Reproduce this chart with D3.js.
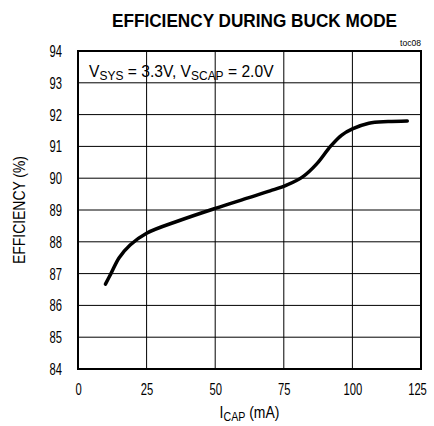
<!DOCTYPE html>
<html>
<head>
<meta charset="utf-8">
<script src="https://cdn.jsdelivr.net/npm/d3@7"></script>
<style>
  body { margin: 0; background: #fff; }
  text { font-family: "Liberation Sans", Arial, sans-serif; fill: #000; }
</style>
</head>
<body>
<div id="chart-area"></div>
<script>
// data
const currentMA = [10, 12, 15, 19, 25, 37, 50, 62, 70, 76, 82, 87, 92, 96, 100, 106, 113, 120]
const efficiency = [86.67, 87.0, 87.5, 87.9, 88.27, 88.67, 89.05, 89.38, 89.6, 89.78, 90.05, 90.45, 91.0, 91.35, 91.55, 91.73, 91.78, 91.8]
const xTicks = [0, 25, 50, 75, 100, 125]
const yTicks = [84, 85, 86, 87, 88, 89, 90, 91, 92, 93, 94]

const MARGIN = { LEFT: 78, TOP: 51 }
const WIDTH = 343
const HEIGHT = 318
const SQUEEZE = 0.66 // tick digits are a condensed face in the original

// squeeze a single text to its measured width
function narrow(sel, len) {
  sel.attr("textLength", len).attr("lengthAdjust", "spacingAndGlyphs")
}

const svg = d3.select("#chart-area").append("svg")
  .attr("width", 434)
  .attr("height", 426)

const g = svg.append("g")
  .attr("transform", `translate(${MARGIN.LEFT}, ${MARGIN.TOP})`)

const x = d3.scaleLinear().domain([0, 125]).range([0, WIDTH])
const y = d3.scaleLinear().domain([84, 94]).range([HEIGHT, 0])

// grid
g.append("g")
  .selectAll("line")
  .data(yTicks.slice(1, -1))
  .join("line")
  .attr("x1", 0).attr("x2", WIDTH)
  .attr("y1", d => y(d)).attr("y2", d => y(d))
  .attr("stroke", "#000").attr("stroke-width", 1)

g.append("g")
  .selectAll("line")
  .data(xTicks.slice(1, -1))
  .join("line")
  .attr("y1", 0).attr("y2", HEIGHT)
  .attr("x1", d => x(d)).attr("x2", d => x(d))
  .attr("stroke", "#000").attr("stroke-width", 1)

// axes (labels only)
const xAxis = g.append("g")
  .attr("transform", `translate(0, ${HEIGHT})`)
  .call(d3.axisBottom(x).tickValues(xTicks).tickSize(0).tickPadding(14))
const yAxis = g.append("g")
  .call(d3.axisLeft(y).tickValues(yTicks).tickSize(0).tickPadding(16))
xAxis.select(".domain").remove()
yAxis.select(".domain").remove()
svg.selectAll(".tick text")
  .attr("font-size", "17px")
  .attr("font-family", "'Liberation Sans', Arial, sans-serif")
  .attr("fill", "#000")
  .attr("transform", `scale(${SQUEEZE}, 1)`)
yAxis.selectAll(".tick text").attr("x", -16 / SQUEEZE)
// last x label sits a little inside the edge
xAxis.selectAll(".tick text").filter(d => d === 125).attr("x", -4 / SQUEEZE)

// frame
g.append("rect")
  .attr("width", WIDTH).attr("height", HEIGHT)
  .attr("fill", "none").attr("stroke", "#000").attr("stroke-width", 2)

// curve
const line = d3.line()
  .x((d, i) => x(currentMA[i]))
  .y(d => y(d))
  .curve(d3.curveCatmullRom)

g.append("path")
  .attr("d", line(efficiency))
  .attr("fill", "none")
  .attr("stroke", "#000")
  .attr("stroke-width", 3.5)
  .attr("stroke-linecap", "round")

// title
svg.append("text")
  .attr("x", 254.5).attr("y", 27)
  .attr("text-anchor", "middle")
  .attr("font-size", "19px")
  .attr("font-weight", "bold")
  .text("EFFICIENCY DURING BUCK MODE")
  .call(narrow, 285)

svg.append("text")
  .attr("x", 421).attr("y", 46)
  .attr("text-anchor", "end")
  .attr("font-size", "9px")
  .text("toc08")
  .call(narrow, 21)

// condition label (squeezed with a transform so the subscripts keep their place)
const cond = svg.append("text")
  .attr("transform", "translate(89, 77) scale(0.92, 1)")
  .attr("font-size", "17px")
cond.append("tspan").text("V")
cond.append("tspan").attr("dy", 3).attr("font-size", "13px").text("SYS")
cond.append("tspan").attr("dy", -3).text(" = 3.3V, V")
cond.append("tspan").attr("dy", 3).attr("font-size", "13px").text("SCAP")
cond.append("tspan").attr("dy", -3).text(" = 2.0V")

// axis titles
const xLabel = svg.append("text")
  .attr("transform", "translate(249.5, 418) scale(0.82, 1)")
  .attr("text-anchor", "middle")
  .attr("font-size", "17px")
xLabel.append("tspan").text("I")
xLabel.append("tspan").attr("dy", 3).attr("font-size", "13px").text("CAP")
xLabel.append("tspan").attr("dy", -3).text(" (mA)")

svg.append("text")
  .attr("transform", "translate(25, 210) rotate(-90)")
  .attr("text-anchor", "middle")
  .attr("font-size", "17px")
  .text("EFFICIENCY (%)")
  .call(narrow, 108)
</script>
</body>
</html>
